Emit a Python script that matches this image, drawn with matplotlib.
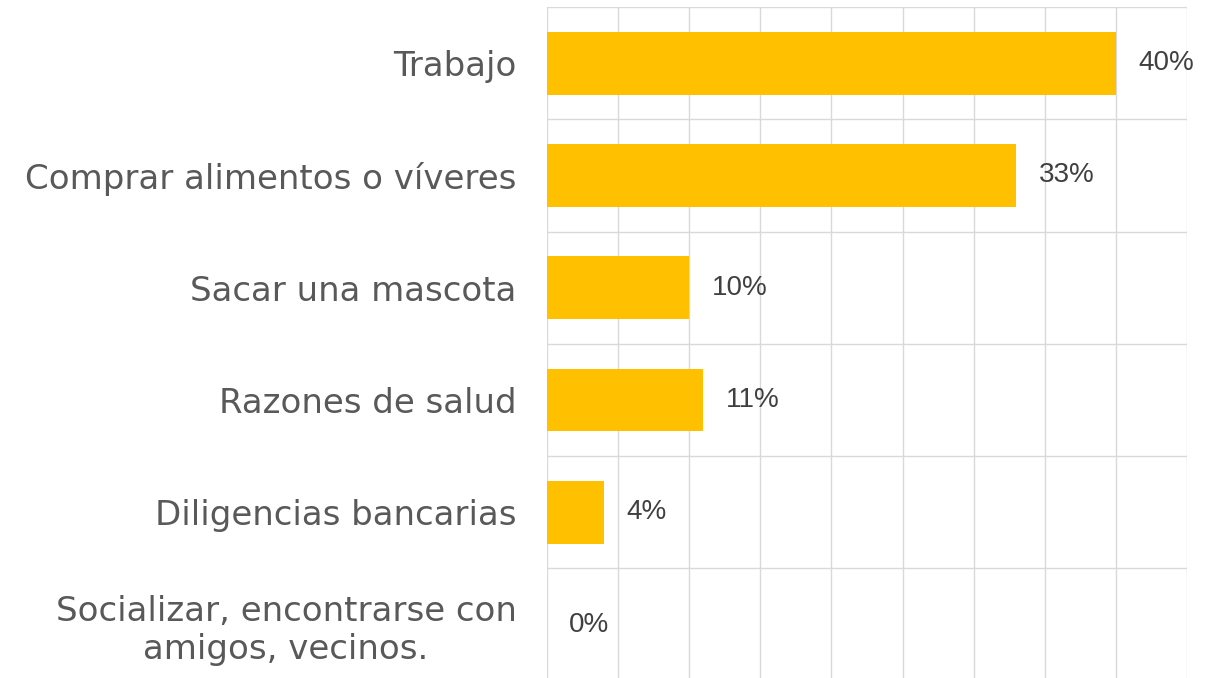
import numpy as np
import matplotlib.pyplot as plt

categorias = ['Trabajo', 'Comprar alimentos o víveres', 'Sacar una mascota',
              'Razones de salud', 'Diligencias bancarias',
              'Socializar, encontrarse con\namigos, vecinos.']
valores = [40, 33, 10, 11, 4, 0]
etiquetas = ['40%', '33%', '10%', '11%', '4%', '0%']

plt.rcParams['font.family'] = ['DejaVu Sans']

fig = plt.figure(figsize=(12.14, 6.78), dpi=100)
ax = fig.add_axes([0.4506, -0.004, 0.5272, 0.9937])

y = np.arange(len(categorias))
ax.barh(y, valores, height=0.56, color='#FFC000', zorder=3)

# etiquetas de datos
for i in range(len(valores)):
    ax.annotate(etiquetas[i], (valores[i], y[i]), xytext=(16, 0),
                textcoords='offset points', va='center', ha='left',
                fontsize=20, color='#404040', family=['Liberation Sans', 'DejaVu Sans'])

ax.set_xlim(0, 45)
ax.set_ylim(len(categorias) - 0.5, -0.5)
ax.set_xticks(np.arange(0, 46, 5))
ax.set_xticklabels([])
ax.set_yticks(y)
ax.set_yticklabels(categorias, fontsize=24.5, color='#595959', multialignment='center')
ax.set_yticks(np.arange(-0.5, len(categorias), 1), minor=True)

ax.grid(True, axis='x', color='#D9D9D9', lw=1, zorder=0)
ax.grid(True, axis='y', which='minor', color='#D9D9D9', lw=1, zorder=0)
ax.tick_params(axis='both', which='both', length=0)
ax.tick_params(axis='y', pad=22)
for s in ax.spines.values():
    s.set_visible(False)

plt.savefig('out.png', dpi=100)
